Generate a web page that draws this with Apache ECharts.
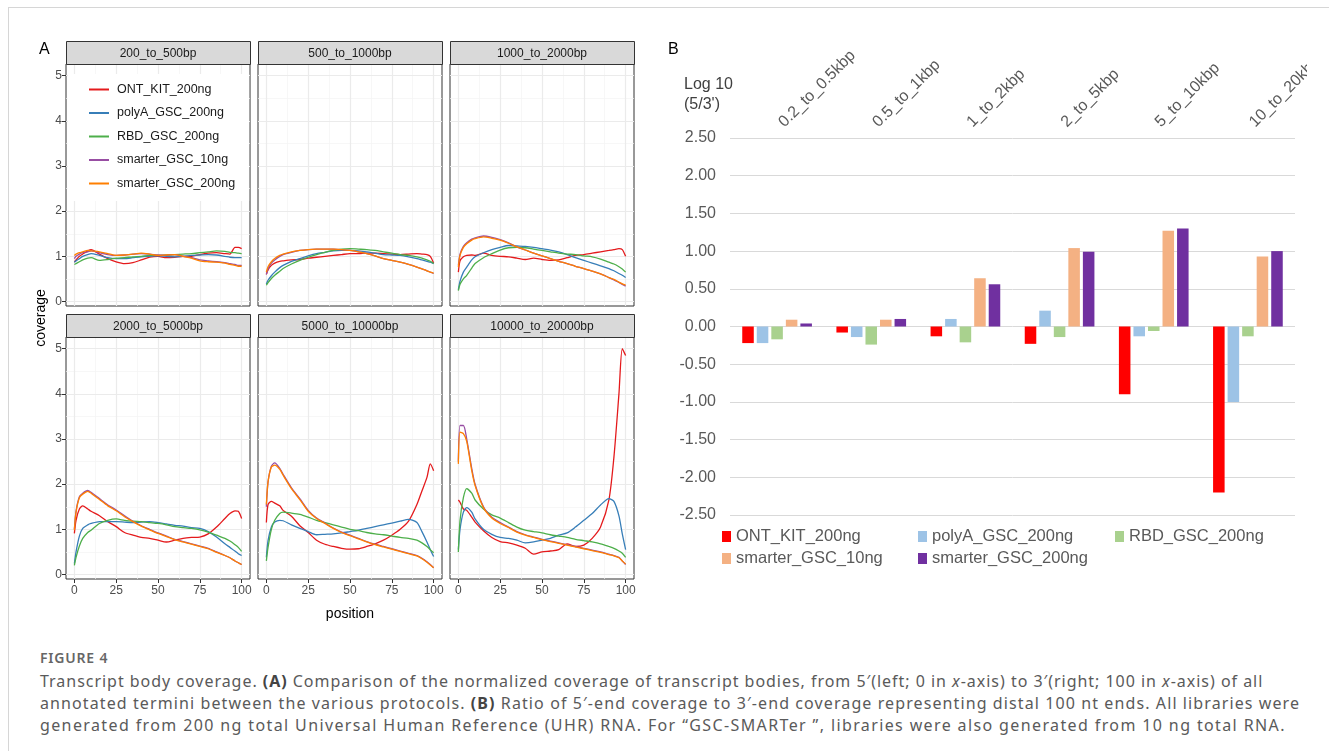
<!DOCTYPE html>
<html>
<head>
<meta charset="utf-8">
<script src="https://cdn.jsdelivr.net/npm/echarts@6/dist/echarts.min.js"></script>
<style>
  html, body { margin: 0; padding: 0; background: #fff; }
  #frame { position: absolute; left: 8px; top: 7px; width: 1321px; height: 744px;
    border-top: 1px solid #d6d6d6; border-left: 1px solid #d6d6d6; }
  #chart { position: absolute; left: 0; top: 0; width: 1329px; height: 640px; }
  #caption { position: absolute; left: 40px; top: 648px; white-space: nowrap;
    font-family: "Noto Sans", "Open Sans", sans-serif; color: #5a5a5a; }
  #caption .fig { font-size: 14px; font-weight: 600; letter-spacing: 0.8px; color: #666; line-height: 20px; }
  #caption .txt { font-size: 16px; line-height: 22px; margin-top: 2px; }
  #caption .l1 { letter-spacing: 0.97px; }
  #caption .l2 { letter-spacing: 1.1px; }
  #caption .l3 { letter-spacing: 1.38px; }
  #caption b { color: #444; }
</style>
</head>
<body>
<div id="frame"></div>
<div id="chart"></div>
<div id="caption">
  <div class="fig">FIGURE 4</div>
  <div class="txt"><span class="l1">Transcript body coverage. <b>(A)</b> Comparison of the normalized coverage of transcript bodies, from 5′(left; 0 in <i>x</i>-axis) to 3′(right; 100 in <i>x</i>-axis) of all</span><br><span class="l2">annotated termini between the various protocols. <b>(B)</b> Ratio of 5′-end coverage to 3′-end coverage representing distal 100 nt ends. All libraries were</span><br><span class="l3">generated from 200 ng total Universal Human Reference (UHR) RNA. For “GSC-SMARTer ”, libraries were also generated from 10 ng total RNA.</span></div>
</div>
<script>
// ---- A: coverage along transcript body ----
const positions = [0, 1, 3, 5, 8, 10, 15, 20, 25, 30, 35, 40, 45, 50, 55, 60, 65, 70, 75, 80, 85, 90, 93, 96, 98, 100];
const protocols = ['ONT_KIT_200ng', 'polyA_GSC_200ng', 'RBD_GSC_200ng', 'smarter_GSC_10ng', 'smarter_GSC_200ng'];
const facetNames = ['200_to_500bp', '500_to_1000bp', '1000_to_2000bp', '2000_to_5000bp', '5000_to_10000bp', '10000_to_20000bp'];

// 每个分面: ONT, polyA, RBD, smarter_10ng, smarter_200ng
const cov200to500 = [
  [0.87, 0.92, 1.0, 1.05, 1.12, 1.15, 1.05, 0.95, 0.88, 0.84, 0.86, 0.92, 0.98, 1.0, 0.97, 0.98, 1.0, 1.0, 1.04, 1.07, 1.08, 1.06, 1.05, 1.2, 1.2, 1.17],
  [0.87, 0.9, 0.95, 1.0, 1.04, 1.06, 1.02, 0.97, 0.95, 0.95, 0.97, 0.99, 1.0, 1.01, 1.0, 0.99, 1.0, 1.02, 1.03, 1.04, 1.03, 1.0, 0.98, 0.97, 0.97, 0.97],
  [0.82, 0.84, 0.88, 0.92, 0.96, 0.97, 0.91, 0.93, 0.96, 0.97, 0.99, 1.0, 1.02, 1.02, 1.03, 1.04, 1.05, 1.06, 1.08, 1.1, 1.12, 1.11, 1.09, 1.08, 1.07, 1.06],
  [0.95, 1.0, 1.05, 1.08, 1.1, 1.12, 1.08, 1.04, 1.02, 1.03, 1.05, 1.06, 1.05, 1.03, 1.02, 1.04, 1.0, 0.97, 0.92, 0.9, 0.88, 0.86, 0.84, 0.82, 0.8, 0.8],
  [1.02, 1.05, 1.08, 1.1, 1.13, 1.12, 1.1, 1.06, 1.02, 1.03, 1.05, 1.07, 1.05, 1.02, 1.03, 1.04, 1.0, 0.96, 0.9, 0.88, 0.87, 0.85, 0.82, 0.8, 0.78, 0.78]
];
const cov500to1000 = [
  [0.6, 0.7, 0.8, 0.85, 0.89, 0.9, 0.92, 0.93, 0.96, 0.98, 1.0, 1.02, 1.04, 1.06, 1.06, 1.07, 1.07, 1.06, 1.05, 1.04, 1.05, 1.06, 1.05, 1.04, 1.0, 0.85],
  [0.39, 0.47, 0.57, 0.65, 0.75, 0.8, 0.89, 0.95, 1.01, 1.06, 1.09, 1.12, 1.13, 1.13, 1.12, 1.1, 1.07, 1.04, 1.03, 1.02, 0.99, 0.95, 0.92, 0.89, 0.87, 0.84],
  [0.36, 0.42, 0.51, 0.58, 0.67, 0.73, 0.83, 0.91, 0.98, 1.04, 1.09, 1.13, 1.16, 1.17, 1.16, 1.15, 1.13, 1.1, 1.07, 1.04, 1.02, 0.99, 0.96, 0.92, 0.89, 0.84],
  [0.6, 0.72, 0.85, 0.92, 1.0, 1.04, 1.09, 1.13, 1.15, 1.16, 1.16, 1.16, 1.15, 1.13, 1.1, 1.06, 1.01, 0.95, 0.91, 0.87, 0.82, 0.76, 0.72, 0.68, 0.65, 0.62],
  [0.65, 0.77, 0.88, 0.95, 1.02, 1.05, 1.1, 1.13, 1.15, 1.16, 1.16, 1.16, 1.15, 1.13, 1.1, 1.06, 1.01, 0.95, 0.91, 0.87, 0.82, 0.76, 0.72, 0.68, 0.65, 0.63]
];
const cov1000to2000 = [
  [0.65, 0.9, 0.99, 1.02, 1.03, 1.02, 1.07, 1.02, 1.0, 0.99, 0.96, 0.93, 0.96, 0.93, 0.91, 0.92, 0.97, 1.02, 1.04, 1.07, 1.1, 1.13, 1.15, 1.17, 1.15, 1.0],
  [0.26, 0.45, 0.65, 0.76, 0.92, 0.99, 1.08, 1.15, 1.2, 1.24, 1.23, 1.22, 1.2, 1.17, 1.14, 1.1, 1.04, 0.97, 0.91, 0.85, 0.79, 0.73, 0.68, 0.62, 0.58, 0.53],
  [0.24, 0.38, 0.5, 0.58, 0.74, 0.84, 0.97, 1.06, 1.14, 1.19, 1.2, 1.19, 1.16, 1.13, 1.1, 1.07, 1.05, 1.04, 1.01, 0.99, 0.94, 0.87, 0.83, 0.77, 0.72, 0.65],
  [0.8, 1.05, 1.22, 1.3, 1.38, 1.41, 1.45, 1.42, 1.37, 1.3, 1.21, 1.14, 1.07, 1.01, 0.95, 0.89, 0.84, 0.78, 0.73, 0.67, 0.61, 0.53, 0.48, 0.42, 0.38, 0.34],
  [0.76, 1.02, 1.2, 1.28, 1.36, 1.39, 1.43, 1.4, 1.36, 1.29, 1.21, 1.14, 1.07, 1.01, 0.95, 0.89, 0.84, 0.78, 0.73, 0.67, 0.61, 0.53, 0.49, 0.43, 0.39, 0.36]
];
const cov2000to5000 = [
  [0.91, 1.2, 1.45, 1.52, 1.45, 1.4, 1.3, 1.17, 1.06, 0.93, 0.87, 0.82, 0.8, 0.76, 0.72, 0.76, 0.8, 0.82, 0.83, 0.9, 1.05, 1.24, 1.35, 1.41, 1.4, 1.24],
  [0.24, 0.5, 0.85, 1.02, 1.1, 1.13, 1.17, 1.17, 1.17, 1.16, 1.15, 1.16, 1.17, 1.15, 1.12, 1.09, 1.07, 1.04, 1.02, 0.95, 0.83, 0.68, 0.6, 0.52, 0.46, 0.42],
  [0.2, 0.38, 0.63, 0.8, 0.93, 0.98, 1.13, 1.2, 1.23, 1.2, 1.18, 1.17, 1.15, 1.13, 1.1, 1.06, 1.04, 1.02, 0.99, 0.94, 0.87, 0.8, 0.74, 0.66, 0.6, 0.51],
  [1.0, 1.4, 1.72, 1.8, 1.86, 1.82, 1.68, 1.54, 1.43, 1.3, 1.18, 1.08, 1.0, 0.92, 0.85, 0.78, 0.73, 0.68, 0.63, 0.58, 0.5, 0.42, 0.37, 0.3, 0.26, 0.22],
  [0.98, 1.38, 1.7, 1.78, 1.84, 1.8, 1.66, 1.52, 1.41, 1.28, 1.17, 1.07, 0.99, 0.91, 0.84, 0.77, 0.72, 0.67, 0.62, 0.57, 0.49, 0.42, 0.37, 0.3, 0.26, 0.22]
];
const cov5000to10000 = [
  [1.15, 1.55, 1.62, 1.58, 1.52, 1.42, 1.29, 1.08, 0.93, 0.76, 0.67, 0.62, 0.58, 0.56, 0.57, 0.62, 0.68, 0.76, 0.87, 1.0, 1.18, 1.55, 1.85, 2.15, 2.45, 2.3],
  [0.38, 0.75, 1.05, 1.16, 1.2, 1.19, 1.1, 1.02, 0.95, 0.88, 0.89, 0.9, 0.92, 0.95, 0.98, 1.02, 1.06, 1.1, 1.14, 1.18, 1.22, 1.15, 0.95, 0.72, 0.55, 0.4],
  [0.3, 0.6, 1.0, 1.2, 1.35, 1.38, 1.36, 1.33, 1.27, 1.2, 1.15, 1.1, 1.05, 1.0, 0.97, 0.93, 0.9, 0.88, 0.85, 0.82, 0.8, 0.76, 0.7, 0.62, 0.55, 0.48],
  [1.5, 2.05, 2.4, 2.47, 2.35, 2.22, 1.92, 1.68, 1.42, 1.25, 1.14, 1.03, 0.94, 0.87, 0.8, 0.73, 0.67, 0.62, 0.57, 0.52, 0.47, 0.42, 0.36, 0.28, 0.22, 0.15],
  [1.55, 2.05, 2.38, 2.42, 2.33, 2.2, 1.9, 1.66, 1.4, 1.24, 1.13, 1.02, 0.93, 0.86, 0.79, 0.72, 0.66, 0.61, 0.56, 0.51, 0.46, 0.41, 0.35, 0.27, 0.21, 0.15]
];
const cov10000to20000 = [
  [1.65, 1.6, 1.45, 1.42, 1.27, 1.16, 0.97, 0.82, 0.73, 0.7, 0.65, 0.58, 0.45, 0.5, 0.52, 0.55, 0.68, 0.62, 0.65, 0.8, 1.05, 1.65, 2.6, 4.0, 5.0, 4.85],
  [0.55, 1.0, 1.38, 1.48, 1.38, 1.23, 1.0, 0.89, 0.82, 0.8, 0.76, 0.7, 0.72, 0.76, 0.8, 0.87, 0.92, 1.05, 1.2, 1.35, 1.54, 1.68, 1.62, 1.3, 0.9, 0.55],
  [0.5, 1.2, 1.7, 1.9, 1.8, 1.65, 1.45, 1.32, 1.25, 1.15, 1.05, 0.98, 0.95, 0.92, 0.88, 0.85, 0.82, 0.78, 0.75, 0.72, 0.68, 0.62, 0.58, 0.52, 0.47, 0.38],
  [2.5, 3.3, 3.3, 3.0, 2.35, 2.0, 1.5, 1.27, 1.15, 1.05, 0.95, 0.88, 0.83, 0.78, 0.74, 0.7, 0.66, 0.62, 0.58, 0.54, 0.5, 0.45, 0.42, 0.38, 0.3, 0.22],
  [2.45, 3.15, 3.12, 2.95, 2.3, 1.97, 1.48, 1.25, 1.13, 1.04, 0.94, 0.87, 0.82, 0.77, 0.73, 0.69, 0.65, 0.61, 0.57, 0.53, 0.49, 0.44, 0.41, 0.37, 0.3, 0.23]
];
const facetData = [cov200to500, cov500to1000, cov1000to2000, cov2000to5000, cov5000to10000, cov10000to20000];

const xMajor = [0, 25, 50, 75, 100];
const xMinor = [12.5, 37.5, 62.5, 87.5];
const yMajor = [0, 1, 2, 3, 4, 5];
const yMinor = [0.5, 1.5, 2.5, 3.5, 4.5];

// ---- B: log10 5'/3' ratio ----
const sizeBins = ['0.2_to_0.5kbp', '0.5_to_1kbp', '1_to_2kbp', '2_to_5kbp', '5_to_10kbp', '10_to_20kbp'];
const ratioONT = [-0.22, -0.08, -0.13, -0.23, -0.90, -2.20];
const ratioPolyA = [-0.22, -0.14, 0.10, 0.21, -0.13, -1.00];
const ratioRBD = [-0.17, -0.24, -0.21, -0.14, -0.06, -0.13];
const ratioSmarter10 = [0.09, 0.09, 0.64, 1.04, 1.27, 0.93];
const ratioSmarter200 = [0.04, 0.10, 0.56, 0.99, 1.30, 1.00];
const ratioSeries = [ratioONT, ratioPolyA, ratioRBD, ratioSmarter10, ratioSmarter200];

const lineColors = ['#e41a1c', '#377eb8', '#4daf4a', '#984ea3', '#ff7f00'];
const barColors = ['#ff0000', '#9dc3e6', '#a9d18e', '#f4b183', '#7030a0'];

// 布局
const colLeft = [66, 258, 450];
const panelW = 184;
const stripTop = [41, 314];
const stripH = 23;
const panelH = 242;

const grids = [], xAxes = [], yAxes = [], series = [], graphics = [];

facetNames.forEach((fname, i) => {
  const r = Math.floor(i / 3), c = i % 3;
  grids.push({
    left: colLeft[c], top: stripTop[r] + stripH, width: panelW, height: panelH,
    show: true, backgroundColor: '#fff', borderColor: '#333', borderWidth: 1,
    containLabel: false, outerBoundsMode: 'none'
  });
  xAxes.push({
    gridIndex: i, type: 'value', min: -5, max: 105,
    axisLine: { show: false, onZero: false },
    axisTick: { show: r === 1, length: 4, customValues: xMajor, lineStyle: { color: '#333' } },
    axisLabel: { show: r === 1, customValues: xMajor, color: '#4d4d4d', fontSize: 12, margin: 6 },
    splitLine: { show: false },
    name: i === 4 ? 'position' : '', nameLocation: 'middle', nameGap: 28,
    nameTextStyle: { fontSize: 14, color: '#000' }
  });
  yAxes.push({
    gridIndex: i, type: 'value', min: -0.1, max: 5.26,
    axisLine: { show: false, onZero: false },
    axisTick: { show: c === 0, length: 4, customValues: yMajor, lineStyle: { color: '#333' } },
    axisLabel: { show: c === 0, customValues: yMajor, color: '#4d4d4d', fontSize: 12, margin: 4 },
    splitLine: { show: false }
  });
  const gridLines = []
    .concat(xMinor.map(v => ({ xAxis: v, lineStyle: { color: '#f3f3f3', width: 0.7, type: 'solid' } })))
    .concat(yMinor.map(v => ({ yAxis: v, lineStyle: { color: '#f3f3f3', width: 0.7, type: 'solid' } })))
    .concat(xMajor.map(v => ({ xAxis: v, lineStyle: { color: '#ebebeb', width: 1.2, type: 'solid' } })))
    .concat(yMajor.map(v => ({ yAxis: v, lineStyle: { color: '#ebebeb', width: 1.2, type: 'solid' } })));
  protocols.forEach((p, k) => {
    const s = {
      type: 'line', name: p, xAxisIndex: i, yAxisIndex: i,
      data: positions.map((x, j) => [x, facetData[i][k][j]]),
      showSymbol: false, symbol: 'none', smooth: 0.25, z: 3,
      lineStyle: { width: 1.3, color: lineColors[k] },
      itemStyle: { color: lineColors[k] },
      silent: true
    };
    if (k === 0) {
      s.markLine = { silent: true, symbol: ['none', 'none'], z: 1, label: { show: false },
        animation: false, data: gridLines };
    }
    series.push(s);
  });
  // strip
  graphics.push({
    type: 'rect', z: 10,
    shape: { x: colLeft[c] + 0.5, y: stripTop[r] + 0.5, width: panelW, height: stripH },
    style: { fill: '#d9d9d9', stroke: '#333', lineWidth: 1 }
  });
  graphics.push({
    type: 'text', z: 11,
    x: colLeft[c] + panelW / 2, y: stripTop[r] + stripH / 2 + 1,
    style: { text: fname, fill: '#1a1a1a', font: '12px "Liberation Sans", Arial, sans-serif',
      textAlign: 'center', textVerticalAlign: 'middle' }
  });
});

graphics.push({
  type: 'text', x: 41, y: 318, rotation: Math.PI / 2,
  style: { text: 'coverage', fill: '#000', font: '14px "Liberation Sans", Arial, sans-serif',
    textAlign: 'center', textVerticalAlign: 'middle' }
});
// 10_to_20kbp 标签被原图裁切
graphics.push({
  type: 'rect', z: 20, shape: { x: 1307, y: 30, width: 22, height: 100 }, style: { fill: '#fff' }
});

// B grid
grids.push({ left: 730, top: 138, width: 565, height: 377, show: false,
  containLabel: false, outerBoundsMode: 'none' });
xAxes.push({
  gridIndex: 6, type: 'category', data: sizeBins, position: 'top',
  axisLine: { show: false, onZero: false }, axisTick: { show: false },
  axisLabel: { rotate: -45, interval: 0, margin: 9, fontSize: 16, color: '#595959', padding: [0, 0, 0, 6] },
  splitLine: { show: false }
});
yAxes.push({
  gridIndex: 6, type: 'value', min: -2.5, max: 2.5, interval: 0.5,
  axisLine: { show: false }, axisTick: { show: false },
  axisLabel: { fontSize: 16, color: '#595959', margin: 14, formatter: v => v.toFixed(2) },
  splitLine: { lineStyle: { color: '#d9d9d9', width: 1 } }
});
protocols.forEach((p, k) => {
  series.push({
    type: 'bar', name: p, xAxisIndex: 6, yAxisIndex: 6,
    data: ratioSeries[k], itemStyle: { color: barColors[k] },
    barGap: '26%', barCategoryGap: '26%', silent: true
  });
});

const legendText = { fontSize: 16.5, color: '#595959' };
const option = {
  animation: false,
  textStyle: { fontFamily: '"Liberation Sans", Arial, sans-serif' },
  title: [
    { text: 'A', left: 34, top: 37, textStyle: { fontSize: 16, fontWeight: 'normal', color: '#000' } },
    { text: 'B', left: 663, top: 37, textStyle: { fontSize: 16, fontWeight: 'normal', color: '#000' } },
    { text: 'Log 10\n(5/3\')', left: 679, top: 70,
      textStyle: { fontSize: 16, fontWeight: 'normal', color: '#404040', lineHeight: 20 } }
  ],
  grid: grids,
  xAxis: xAxes,
  yAxis: yAxes,
  legend: [
    {
      orient: 'vertical', left: 68, top: 74, icon: 'rect', itemWidth: 20, itemHeight: 2, itemGap: 8.5,
      backgroundColor: '#fff', padding: [8, 14, 10, 21], selectedMode: false,
      textStyle: { fontSize: 12.5, color: '#1a1a1a', padding: [0, 0, 0, 3], lineHeight: 15 },
      data: protocols.map((n, k) => ({ name: n, itemStyle: { color: lineColors[k] } }))
    },
    {
      orient: 'vertical', left: 722, top: 528, icon: 'rect', itemWidth: 9, itemHeight: 11, itemGap: 5,
      padding: 0, selectedMode: false, textStyle: legendText,
      data: [0, 3].map(k => ({ name: protocols[k], itemStyle: { color: barColors[k] } }))
    },
    {
      orient: 'vertical', left: 918, top: 528, icon: 'rect', itemWidth: 9, itemHeight: 11, itemGap: 5,
      padding: 0, selectedMode: false, textStyle: legendText,
      data: [1, 4].map(k => ({ name: protocols[k], itemStyle: { color: barColors[k] } }))
    },
    {
      orient: 'vertical', left: 1115, top: 528, icon: 'rect', itemWidth: 9, itemHeight: 11, itemGap: 5,
      padding: 0, selectedMode: false, textStyle: legendText,
      data: [2].map(k => ({ name: protocols[k], itemStyle: { color: barColors[k] } }))
    }
  ],
  graphic: graphics,
  series: series
};

const myChart = echarts.init(document.getElementById('chart'));
myChart.setOption(option);
</script>
</body>
</html>
